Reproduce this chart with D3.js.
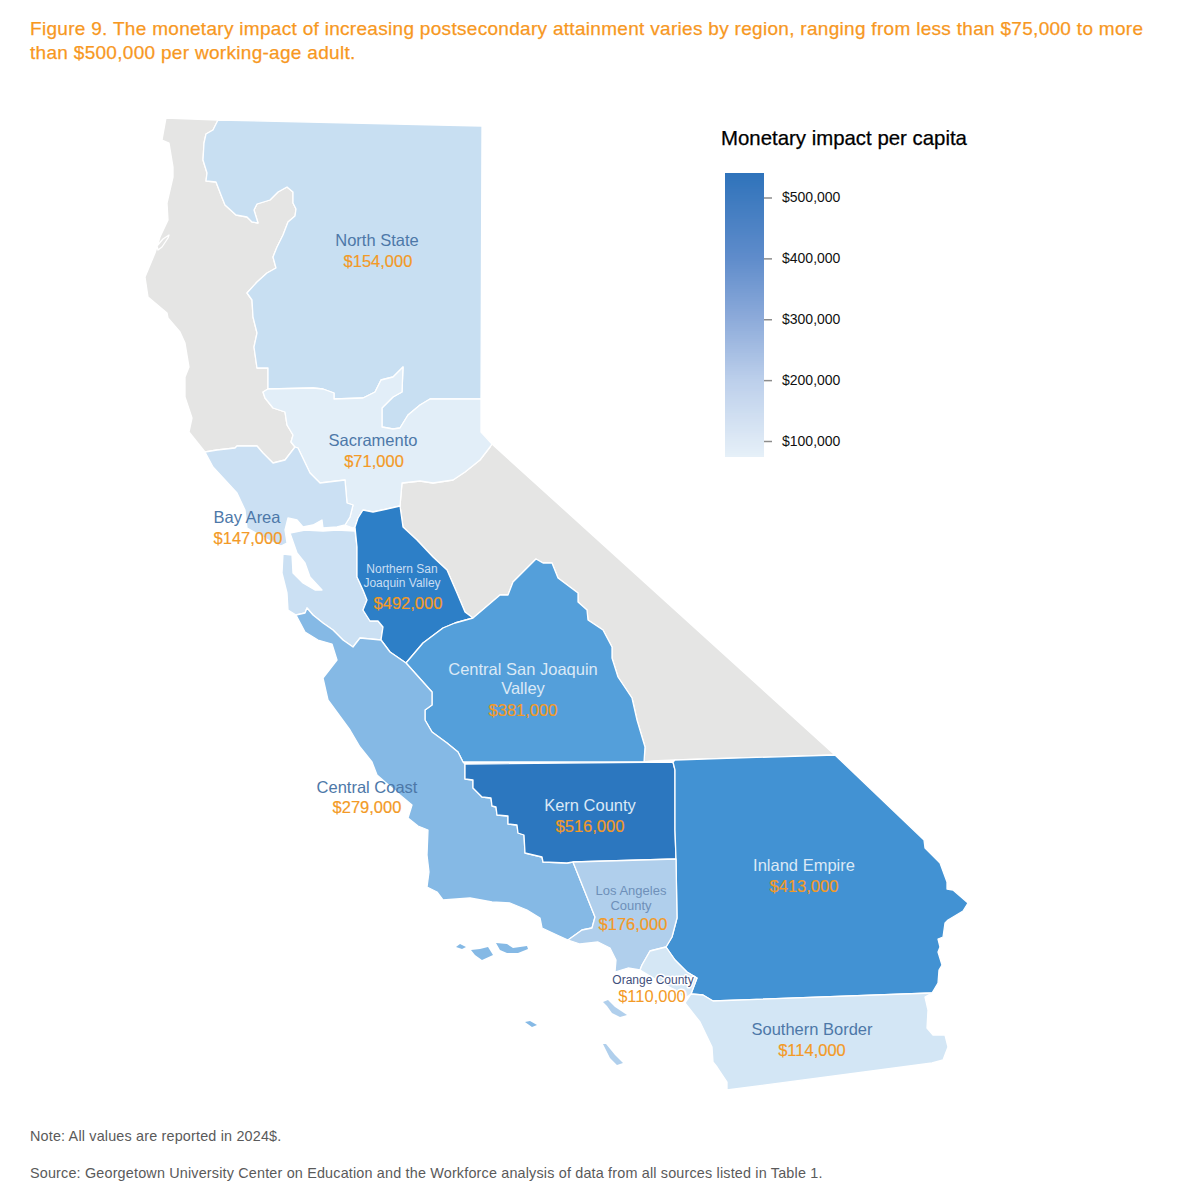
<!DOCTYPE html>
<html>
<head>
  <meta charset="UTF-8">
  <title>Figure 9</title>
  <script src="https://d3js.org/d3.v7.min.js"></script>
  <style>
    html, body { margin: 0; padding: 0; background: #fff; }
    svg { display: block; }
    text { font-family: "Liberation Sans", Arial, sans-serif; }
    .name { font-size: 16.5px; text-anchor: middle; }
    .amount { font-size: 16.5px; text-anchor: middle; fill: #f39a26; stroke: #f39a26; stroke-width: 0.2; }
    .halo { paint-order: stroke; stroke: #fff; stroke-width: 3px; stroke-linejoin: round; }
    .region { stroke: #fff; stroke-width: 1.3; stroke-linejoin: round; }
  </style>
</head>
<body>
  <svg id="chart" width="1197" height="1200"></svg>
  <script>
    const titleLines = [
      "Figure 9. The monetary impact of increasing postsecondary attainment varies by region, ranging from less than $75,000 to more",
      "than $500,000 per working-age adult."
    ];
    const legendTitle = "Monetary impact per capita";
    const noteLines = [
      "Note: All values are reported in 2024$.",
      "Source: Georgetown University Center on Education and the Workforce analysis of data from all sources listed in Table 1."
    ];

    const regionNames = ["North State", "Sacramento", "Bay Area", "Northern San Joaquin Valley", "Central San Joaquin Valley", "Central Coast", "Kern County", "Inland Empire", "Los Angeles County", "Orange County", "Southern Border"];
    const regionValues = [154000, 71000, 147000, 492000, 381000, 279000, 516000, 413000, 176000, 110000, 114000];
    const legendTicks = [100000, 200000, 300000, 400000, 500000];

    // region colours, keyed by value
    const mapColorStops = [71000, 110000, 114000, 147000, 154000, 176000, 279000, 381000, 413000, 492000, 516000];
    const mapColorRange = ["#e2eef8", "#d5e7f5", "#d3e6f5", "#cbe0f3", "#c8dff2", "#b0cfec", "#85b9e5", "#549fda", "#4292d3", "#2d7fc7", "#2c77bf"];
    const legendColorStops = [74000, 200000, 300000, 400000, 500000, 540000];
    const legendColorRange = ["#e6f0f8", "#bccfeb", "#8dabda", "#5f8ccb", "#3d7abf", "#2f73bb"];

    // traced outlines, in map units (shared borders are kept as arcs so neighbours line up)
    const arcNorthWest = [[218,120],[217,122],[213,130],[206,134],[204,143],[203,160],[207,173],[206,181],[216,182],[221,195],[225,205],[236,215],[247,217],[252,222],[258,223],[254,210],[257,204],[270,200],[278,192],[287,187],[293,192],[293,203],[296,209],[295,216],[288,222],[283,235],[277,247],[273,257],[276,268],[267,273],[257,282],[247,293],[252,300],[253,317],[257,333],[254,347],[257,368],[268,368],[268,389]];
    const arcNorthSac = [[268,389],[313,388],[323,389],[334,393],[334,399],[363,398],[375,392],[381,380],[393,377],[403,367],[402,392],[393,397],[382,408],[382,427],[393,429],[400,428],[408,415],[420,405],[430,399],[481,399]];
    const arcSacGray = [[268,389],[263,392],[265,398],[273,408],[285,412],[287,425],[293,435],[291,442],[295,447]];
    const arcSacBay = [[295,447],[298,448],[310,473],[320,483],[345,480],[347,503],[353,505],[350,517],[345,525],[353,528]];
    const arcBayGray = [[295,447],[285,460],[273,463],[263,453],[257,446],[237,446],[235,448],[217,450],[205,452]];
    const arcSacDesert = [[481,432],[492,444],[490,447],[480,460],[465,472],[453,480],[433,483],[420,481],[402,483],[400,506]];
    const arcSacNsj = [[400,506],[387,509],[373,512],[363,510],[358,518],[355,527],[353,528]];
    const arcNsjDesert = [[400,506],[403,527],[417,540],[433,557],[447,570],[457,593],[465,612],[473,618]];
    const arcNsjBay = [[355,527],[357,547],[357,577],[363,590],[367,600],[363,610],[370,621],[378,621],[383,627],[381,640]];
    const arcNsjCsj = [[473,618],[455,623],[443,628],[423,643],[406,663]];
    const arcNsjCoast = [[381,640],[390,652],[406,663]];
    const arcBayCoast = [[381,640],[360,638],[353,647],[343,640],[333,630],[323,623],[313,615],[307,608],[305,613],[296,615]];
    const arcCsjDesert = [[473,618],[500,595],[508,595],[513,582],[536,559],[543,563],[552,563],[558,578],[570,587],[578,593],[578,602],[587,610],[588,620],[603,630],[612,647],[612,658],[618,677],[632,698],[637,720],[645,747],[644,762]];
    const arcCsjCoast = [[406,663],[432,692],[432,705],[425,710],[425,720],[432,732],[447,743],[458,752],[463,762]];
    const arcKernCoast = [[465,779],[473,780],[473,788],[482,797],[491,798],[492,806],[496,807],[497,815],[508,816],[508,824],[517,825],[518,833],[524,835],[525,853],[542,857],[543,862],[567,863],[573,862]];
    const arcEmpireKern = [[673,762],[675,770],[675,830],[676,859]];
    const arcCoastLa = [[573,862],[595,917],[592,928],[582,930],[568,940]];
    const arcEmpireLa = [[676,859],[677,918],[672,937],[666,947]];
    const arcEmpireOrange = [[666,947],[675,960],[687,972],[697,978],[691,994]];
    const arcEmpireBorder = [[691,994],[703,995],[713,1001],[932,993]];

    const rev = a => a.slice().reverse();

    const outlineGray = [[166,118], ...arcNorthWest, ...arcSacGray.slice(1), ...arcBayGray.slice(1),
      [189,432],[192,418],[185,397],[185,377],[189,367],[185,343],[180,332],[168,318],[167,313],[148,297],[145,277],[155,253],[160,237],[168,220],[167,203],[173,177],[173,167],[169,143],[162,140]];
    const holeHumboldtBay = [[158,250],[157,246],[163,239],[169,235],[168,238],[162,247]];
    const outlineNorth = [...arcNorthWest, ...arcNorthSac.slice(1), [482,126]];
    const outlineSac = [...arcNorthSac, [481,432], ...arcSacDesert.slice(1), ...arcSacNsj.slice(1), ...rev(arcSacBay).slice(1), ...rev(arcSacGray).slice(1)];
    const outlineBayNorth = [...rev(arcBayGray), ...arcSacBay.slice(1, -1), [337,527],[323,528],[322,520],[313,525],[303,527],[297,520],[288,518],[285,530],[287,543],[281,546],[270,541],[247,528],[245,510],[237,493],[225,480],[213,467]];
    const outlineBaySouth = [[290,533],[305,530],[323,531],[337,530],[355,531], ...arcNsjBay.slice(1), ...arcBayCoast.slice(1),
      [288,610],[287,593],[282,573],[283,554],[292,555],[293,573],[303,583],[315,590],[322,590],[310,577],[305,563],[297,553]];
    const outlineNsj = [...arcSacNsj.slice(0, -1), ...arcNsjBay.slice(1), ...arcNsjCoast.slice(1), ...rev(arcNsjCsj).slice(1), ...rev(arcNsjDesert).slice(1)];
    const outlineCsj = [...arcCsjDesert, [463,762], ...rev(arcCsjCoast).slice(1), ...rev(arcNsjCsj).slice(1)];
    const outlineKern = [[465,764],[673,762], ...arcEmpireKern.slice(1), ...rev(arcKernCoast)];
    const outlineCoast = [...rev(arcBayCoast), ...arcNsjCoast.slice(1), ...arcCsjCoast.slice(1), [465,764], ...arcKernCoast, ...arcCoastLa.slice(1),
      [557,935],[542,928],[540,918],[527,910],[510,903],[492,902],[470,898],[443,900],[437,892],[427,887],[429,872],[427,855],[428,830],[418,826],[408,818],[412,805],[400,795],[377,775],[372,762],[360,747],[350,730],[328,700],[323,678],[337,660],[332,644],[318,640],[305,632]];
    const outlineLa = [[573,862], ...arcEmpireLa, [650,951],[642,965],[640,970],[628,968],[615,972],[616,960],[610,948],[598,942],[580,944],[568,940], ...rev(arcCoastLa).slice(1, -1)];
    const outlineOrange = [[650,951], ...arcEmpireOrange, [684,999],[675,990],[660,982],[640,970],[642,965]];
    const outlineBorder = [...arcEmpireBorder, [925,997],[928,1010],[927,1028],[933,1035],[945,1035],[948,1047],[943,1060],[932,1063],[727,1090],[727,1082],[717,1067],[713,1062],[712,1047],[700,1022],[685,1003]];
    const outlineEmpire = [[675,760],[835,755],[924,840],[925,848],[940,863],[947,882],[947,889],[953,890],[968,903],[963,911],[948,920],[945,923],[943,937],[938,939],[940,947],[938,952],[942,965],[939,970],[938,983],[932,993], ...rev(arcEmpireBorder).slice(1), ...rev(arcEmpireOrange).slice(1), ...rev(arcEmpireLa).slice(1), ...rev(arcEmpireKern).slice(1)];
    const outlineDesert = [...arcSacDesert.slice(1), ...arcNsjDesert.slice(1), ...arcCsjDesert.slice(1), [652,761],[675,760],[835,755]];

    const islandsCoast = [
      [[456,947],[460,944],[466,947],[462,949]],
      [[471,950],[480,949],[488,947],[493,955],[482,960],[475,955]],
      [[496,943],[507,944],[513,948],[527,946],[528,949],[518,953],[507,953],[500,950]],
      [[525,1022],[530,1021],[537,1025],[532,1027]]
    ];
    const islandsLa = [
      [[603,1002],[608,1000],[615,1007],[627,1015],[620,1017],[612,1013],[607,1006]],
      [[603,1044],[606,1044],[615,1055],[623,1063],[617,1065],[610,1058]]
    ];

    const regionShapes = [
      [outlineNorth], [outlineSac], [outlineBayNorth, outlineBaySouth], [outlineNsj], [outlineCsj],
      [outlineCoast], [outlineKern], [outlineEmpire], [outlineLa], [outlineOrange], [outlineBorder]
    ];
    const regionIslands = [[], [], [], [], [], islandsCoast, [], [], islandsLa, [], []];

    const svg = d3.select("#chart");
    const path = d3.geoPath(d3.geoIdentity());
    const closed = ring => [...ring, ring[0]];
    const feature = polys => ({ type: "MultiPolygon", coordinates: polys.map(p => p.map(closed)) });

    const mapColor = d3.scaleLinear().domain(mapColorStops).range(mapColorRange);
    const legendColor = d3.scaleLinear().domain(legendColorStops).range(legendColorRange);

    // title
    svg.append("g").selectAll("text").data(titleLines).enter().append("text")
      .attr("x", 30).attr("y", (d, i) => 35 + i * 23.5)
      .attr("font-size", 19).attr("letter-spacing", 0.3).attr("fill", "#f7981f").attr("stroke", "#f7981f").attr("stroke-width", 0.25)
      .text(d => d);

    // map
    const map = svg.append("g");
    map.selectAll(".gray").data([[[outlineGray, holeHumboldtBay]], [[outlineDesert]]]).enter().append("path")
      .attr("class", "region gray").attr("fill", "#e5e5e4").attr("d", d => path(feature(d)));
    const regionRows = regionNames.map((n, i) => ({ name: n, value: regionValues[i], polys: regionShapes[i].map(r => [r]), islands: regionIslands[i].map(r => [r]) }));
    map.selectAll(".value").data(regionRows).enter().append("path")
      .attr("class", "region value")
      .attr("fill", d => mapColor(d.value))
      .attr("d", d => path(feature(d.polys)));
    map.selectAll(".island").data(regionRows.filter(d => d.islands.length)).enter().append("path")
      .attr("class", "island")
      .attr("fill", d => mapColor(d.value))
      .attr("d", d => path(feature(d.islands)));

    // labels: name lines, colour and size are layout, the value comes from regionValues
    const fmt = d3.format("$,");
    const blueText = "#4d78a8", paleText = "#dbe9f6";
    const labelLayout = [
      { lines: ["North State"], x: 377, y: [246], amt: [378, 267], fill: blueText },
      { lines: ["Sacramento"], x: 373, y: [446], amt: [374, 467], fill: blueText },
      { lines: ["Bay Area"], x: 247, y: [523], amt: [248, 544], fill: blueText },
      { lines: ["Northern San", "Joaquin Valley"], x: 402, y: [573, 587], amt: [408, 609], fill: "#c9def3", size: 12 },
      { lines: ["Central San Joaquin", "Valley"], x: 523, y: [675, 694], amt: [523, 716], fill: paleText },
      { lines: ["Central Coast"], x: 367, y: [793], amt: [367, 813], fill: blueText },
      { lines: ["Kern County"], x: 590, y: [811], amt: [590, 832], fill: paleText },
      { lines: ["Inland Empire"], x: 804, y: [871], amt: [804, 892], fill: paleText },
      { lines: ["Los Angeles", "County"], x: 631, y: [895, 910], amt: [633, 930], fill: "#6e8fb9", size: 13 },
      { lines: ["Orange County"], x: 653, y: [984], amt: [652, 1002], fill: "#3f4f7c", size: 12, halo: true },
      { lines: ["Southern Border"], x: 812, y: [1035], amt: [812, 1056], fill: blueText }
    ];
    const labels = svg.append("g");
    labelLayout.forEach((l, i) => {
      l.lines.forEach((line, j) => {
        labels.append("text").attr("class", l.halo ? "name halo" : "name").attr("x", l.x).attr("y", l.y[j])
          .attr("fill", l.fill).style("font-size", l.size ? l.size + "px" : null).text(line);
      });
      labels.append("text").attr("class", l.halo ? "amount halo" : "amount").attr("x", l.amt[0]).attr("y", l.amt[1]).text(fmt(regionValues[i]));
    });

    // legend
    const legendScale = d3.scaleLinear().domain([100000, 500000]).range([441, 197.5]);
    const legendTop = 173, legendBottom = 457, legendLeft = 725, legendWidth = 39;
    const legend = svg.append("g");
    legend.append("text").attr("x", 721).attr("y", 145).attr("font-size", 20.4).attr("fill", "#000")
      .attr("stroke", "#000").attr("stroke-width", 0.25).text(legendTitle);
    const strips = d3.range(legendTop, legendBottom, 2);
    legend.selectAll("rect").data(strips).enter().append("rect")
      .attr("x", legendLeft).attr("y", d => d).attr("width", legendWidth).attr("height", d => Math.min(2.5, legendBottom - d))
      .attr("fill", d => legendColor(legendScale.invert(d + 1)));
    const axis = legend.append("g").attr("transform", `translate(${legendLeft + legendWidth},0)`)
      .call(d3.axisRight(legendScale).tickValues(legendTicks).tickFormat(fmt).tickSize(8).tickPadding(10));
    axis.select(".domain").remove();
    axis.selectAll("line").attr("stroke", "#8c8c8c").attr("stroke-width", 1.5);
    axis.selectAll("text").attr("font-size", 14).attr("fill", "#111").style("font-family", '"Liberation Sans", Arial, sans-serif');

    // notes
    svg.append("g").selectAll("text").data(noteLines).enter().append("text")
      .attr("x", 30).attr("y", (d, i) => 1141 + i * 37)
      .attr("font-size", 14.4).attr("letter-spacing", 0.17).attr("fill", "#5a5a5a").text(d => d);
  </script>
</body>
</html>
